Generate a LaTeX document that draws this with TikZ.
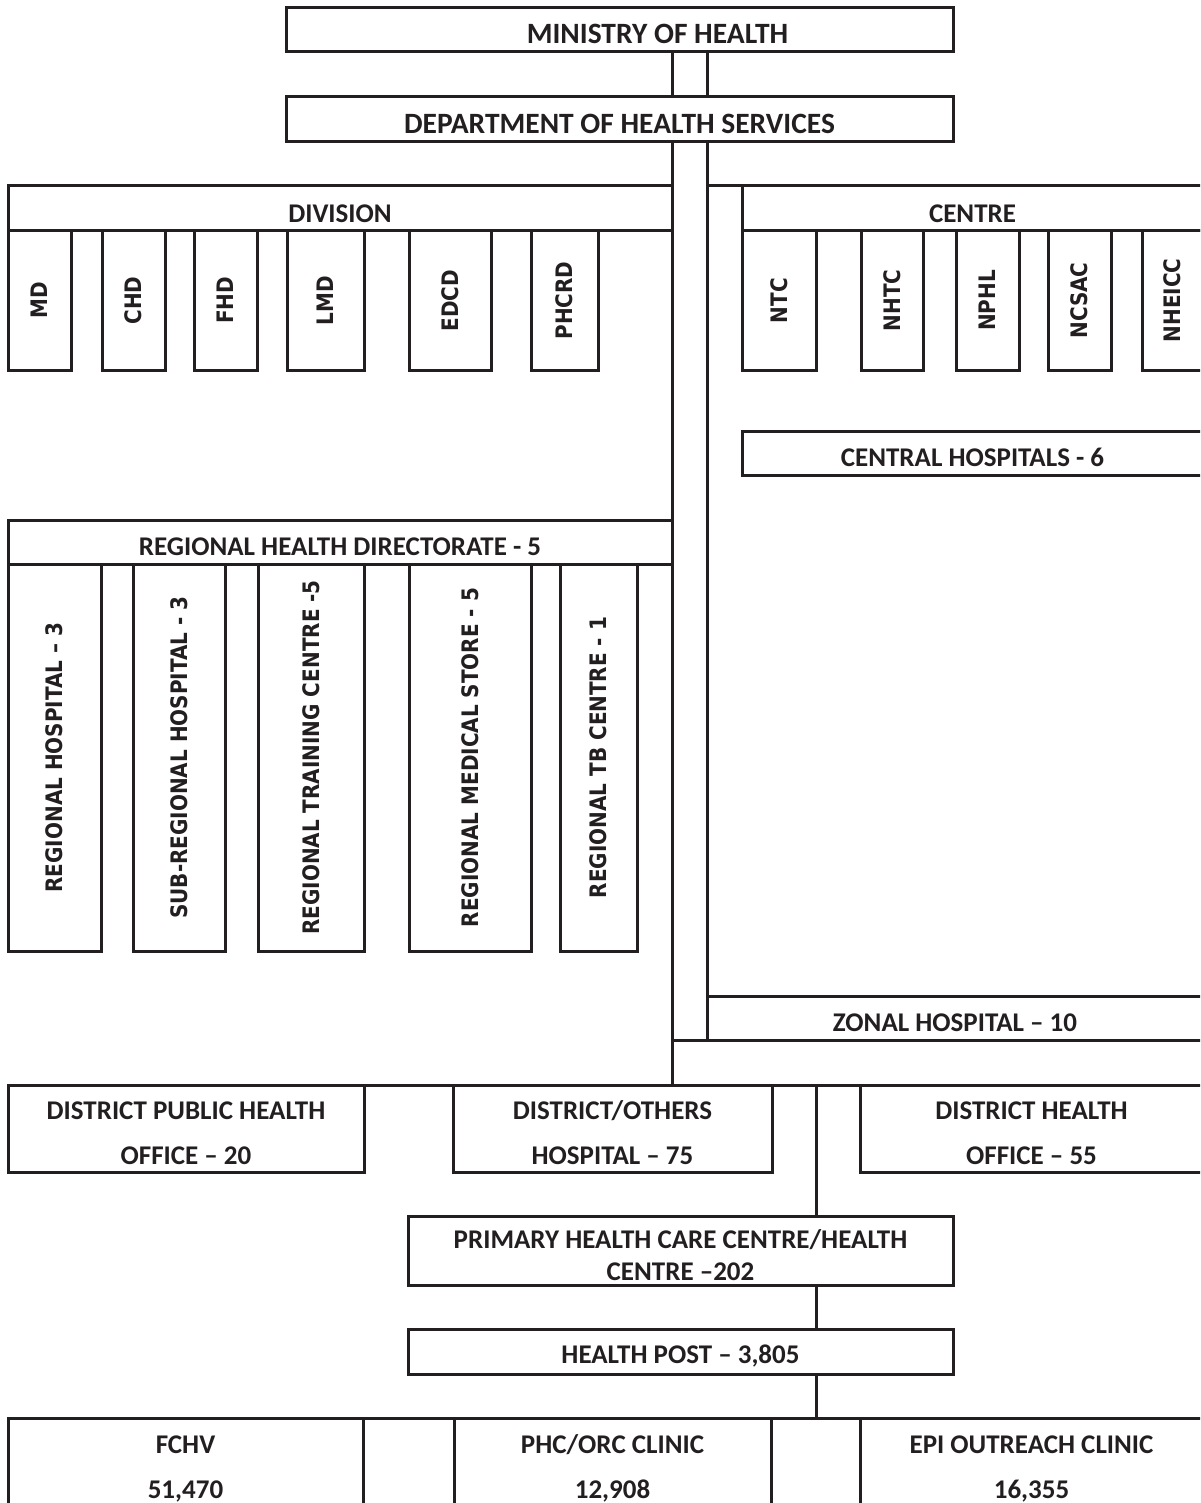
\documentclass[tikz,border=0pt]{standalone}
\usepackage{fontspec}
\usepackage{tikz}
\newfontfamily\calfont{Carlito}
\newfontfamily\verfont[FakeStretch=0.88]{DejaVu Sans}
\definecolor{ink}{HTML}{231F20}
\newcommand\cellfont{\calfont\bfseries\fontsize{27}{45}\selectfont}
\newcommand\headfont{\calfont\bfseries\fontsize{29.5}{34}\selectfont}
\newcommand\phcfont{\calfont\bfseries\fontsize{27}{32}\selectfont}
\newcommand\sidefont{\verfont\bfseries\fontsize{22.7}{26}\selectfont}
\newcommand\vtext[1]{\rotatebox{90}{#1}}
% box from corner (x1,y1) to corner (x2,y2), y counted downwards
\newcommand\orgbox[7][hcell]{%
  \node[#1, minimum width={(#5)-(#3)}, minimum height={(#6)-(#4)}]
    (#2) at ({((#3)+(#5))/2},{((#4)+(#6))/2}) {#7};}
\tikzset{
  cell/.style={draw=ink, line width=3pt, inner sep=0pt, outer sep=0pt, text=ink},
  hcell/.style={cell, font=\cellfont, align=center, text height=27.5pt},
  twoline/.style={hcell, text height=72.5pt},
  vcell/.style={cell, font=\sidefont},
  link/.style={draw=ink, line width=3pt},
}

\begin{document}
\begin{tikzpicture}[x=1pt, y=-1pt]
    \useasboundingbox (0,0) rectangle (1200,1503);
    \clip (0,0) rectangle (1200,1503);
    \coordinate (sl) at (672,0);
    \coordinate (sr) at (707,0);
    \coordinate (sd) at (816,0);

    % ministry and department
    \orgbox[hcell, font=\headfont]{moh}{286}{8}{953}{52}{}
    \node[hcell, draw=none, font=\headfont] (moh-t) at ([xshift=38pt]moh.center) {MINISTRY OF HEALTH};
    \orgbox[hcell, font=\headfont]{dohs}{286}{97}{953}{142}{DEPARTMENT OF HEALTH SERVICES}

    % divisions
    \orgbox{div}{8}{186}{672}{231}{DIVISION}
    \orgbox[vcell]{md}{8}{231}{71}{370}{\vtext{MD}}
    \orgbox[vcell]{chd}{102}{231}{165}{370}{\vtext{CHD}}
    \orgbox[vcell]{fhd}{194}{231}{257}{370}{\vtext{FHD}}
    \orgbox[vcell]{lmd}{287}{231}{364}{370}{\vtext{LMD}}
    \orgbox[vcell]{edcd}{409}{231}{491}{370}{\vtext{EDCD}}
    \orgbox[vcell]{phcrd}{531}{231}{598}{370}{\vtext{PHCRD}}

    % centres
    \orgbox{ctr}{742}{186}{1203}{231}{CENTRE}
    \orgbox[vcell]{ntc}{742}{231}{816}{370}{\vtext{NTC}}
    \orgbox[vcell]{nhtc}{861}{231}{923}{370}{\vtext{NHTC}}
    \orgbox[vcell]{nphl}{956}{231}{1019}{370}{\vtext{NPHL}}
    \orgbox[vcell]{ncsac}{1048}{231}{1111}{370}{\vtext{NCSAC}}
    \orgbox[vcell]{nheicc}{1142}{231}{1203}{370}{\vtext{NHEICC}}
    \orgbox{chosp}{742}{431}{1203}{475}{CENTRAL HOSPITALS - 6}

    % regional level
    \orgbox{rhd}{8}{520}{672}{564}{REGIONAL HEALTH DIRECTORATE - 5}
    \orgbox[vcell]{rh}{8}{564}{101}{951}{\vtext{REGIONAL HOSPITAL – 3}}
    \orgbox[vcell]{srh}{133}{564}{225}{951}{\vtext{SUB-REGIONAL HOSPITAL - 3}}
    \orgbox[vcell]{rtc}{258}{564}{364}{951}{\vtext{REGIONAL TRAINING CENTRE -5}}
    \orgbox[vcell]{rms}{409}{564}{531}{951}{\vtext{REGIONAL MEDICAL STORE - 5}}
    \orgbox[vcell]{rtb}{560}{564}{637}{951}{\vtext{REGIONAL TB CENTRE - 1}}
    \orgbox{zonal}{707}{996}{1203}{1040}{ZONAL HOSPITAL – 10}

    % district level
    \orgbox[twoline]{dpho}{8}{1085}{364}{1172}{DISTRICT PUBLIC HEALTH\\OFFICE – 20}
    \orgbox[twoline]{doh}{453}{1085}{772}{1172}{DISTRICT/OTHERS\\HOSPITAL – 75}
    \orgbox[twoline]{dho}{860}{1085}{1203}{1172}{DISTRICT HEALTH\\OFFICE – 55}
    \orgbox[hcell, font=\phcfont, text height=59.5pt]{phc}{408}{1216}{953}{1285}{PRIMARY HEALTH CARE CENTRE/HEALTH\\CENTRE –202}
    \orgbox{hp}{408}{1329}{953}{1374}{HEALTH POST – 3,805}

    % community level
    \orgbox[twoline]{fchv}{8}{1418}{363}{1510}{FCHV\\51,470}
    \orgbox[twoline]{orc}{454}{1418}{771}{1510}{PHC/ORC CLINIC\\12,908}
    \orgbox[twoline]{epi}{860}{1418}{1203}{1510}{EPI OUTREACH CLINIC\\16,355}

    % links
    \draw[link] (moh.south -| sl) -- (dohs.north -| sl);
    \draw[link] (moh.south -| sr) -- (dohs.north -| sr);
    \draw[link] (dohs.south -| sl) -- (doh.north -| sl);
    \draw[link] (dohs.south -| sr) -- (zonal.north west);
    \draw[link] (ctr.north west) -- (ctr.north -| sr);
    \draw[link] (zonal.south west) -- (zonal.south -| sl);
    \draw[link] (dpho.north east) -- (doh.north west);
    \draw[link] (doh.north east) -- (dho.north west);
    \draw[link] (doh.north -| sd) -- (phc.north -| sd);
    \draw[link] (phc.south -| sd) -- (hp.north -| sd);
    \draw[link] (hp.south -| sd) -- (orc.north -| sd);
    \draw[link] (fchv.north east) -- (orc.north west);
    \draw[link] (orc.north east) -- (epi.north west);
\end{tikzpicture}
\end{document}
